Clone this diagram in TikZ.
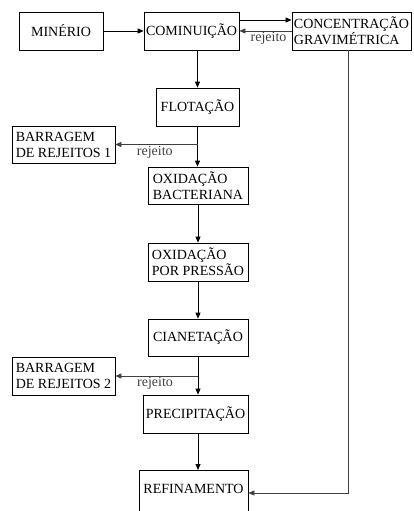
\documentclass[tikz,border=0pt]{standalone}
\usepackage{fontspec}
\setmainfont{Liberation Serif}
\usetikzlibrary{arrows.meta}
\usetikzlibrary{positioning}

\begin{document}
\begin{tikzpicture}[x=1pt,y=-1pt,
    bloco/.style={draw, line width=0.7pt, align=left, inner xsep=2pt,
      minimum height=38pt, font=\fontsize{14}{16}\selectfont},
    seta/.style={-{Triangle[length=6pt,width=5pt]}, line width=0.8pt},
    ramal/.style={line width=0.7pt, black!75},
    rej/.style={font=\fontsize{14}{16}\selectfont, inner sep=1pt}]
            \clip (0,0) rectangle (413,511);
            \node[bloco, minimum width=84pt] (min) at (61,31) {MINÉRIO};
            \node[bloco, minimum width=95pt] (com) at (191.5,31) {COMINUIÇÃO};
            \node[bloco, minimum width=119pt] (conc) at (351.5,31) {CONCENTRAÇÃO\\GRAVIMÉTRICA};
            \node[bloco, minimum width=83pt] (flot) at (197.5,107) {FLOTAÇÃO};
            \node[bloco, minimum width=103pt, minimum height=37pt] (bar1) at (63.5,144.5) {BARRAGEM\\DE REJEITOS 1};
            \node[bloco, minimum width=100pt, minimum height=37pt] (oxb) at (198,185.5) {OXIDAÇÃO\\BACTERIANA};
            \node[bloco, minimum width=100pt] (oxp) at (198,262) {OXIDAÇÃO\\POR PRESSÃO};
            \node[bloco, minimum width=100pt, minimum height=37pt] (cian) at (198,337.5) {CIANETAÇÃO};
            \node[bloco, minimum width=103pt] (bar2) at (63.5,376) {BARRAGEM\\DE REJEITOS 2};
            \node[bloco, minimum width=105pt] (prec) at (195.5,414) {PRECIPITAÇÃO};
            \node[bloco, anchor=north, minimum width=109pt, minimum height=0pt,
              text height=20.5pt, text depth=30pt, inner ysep=3pt] (ref) at (193.5,470) {REFINAMENTO};
            \coordinate (div1) at (flot.south |- bar1.east);
            \coordinate (div2) at (cian.south |- bar2.east);
            \coordinate (volta) at (348,493);
            \draw[seta] (min) to (com);
            \draw[seta] ([yshift=11pt]com.east) to ([yshift=11pt]conc.west);
            \draw[seta, ramal] (conc.west) to node[rej, below, pos=0.44] {rejeito} (com.east);
            \draw[seta] (flot.north |- com.south) to (flot.north);
            \draw[seta] (flot.south) to (flot.south |- oxb.north);
            \draw[seta, ramal] (div1) to node[rej, below, pos=0.52] {rejeito} (bar1.east);
            \draw[seta] (oxb) to (oxp);
            \draw[seta] (oxp) to (cian);
            \draw[seta] (cian.south) to (cian.south |- prec.north);
            \draw[seta, ramal] (div2) to node[rej, below, pos=0.52] {rejeito} (bar2.east);
            \draw[seta] (prec.south -| cian.south) to (cian.south |- ref.north);
            \draw[seta, ramal] (conc.south -| volta) to (volta) to (volta -| ref.east);
        \end{tikzpicture}
\end{document}
